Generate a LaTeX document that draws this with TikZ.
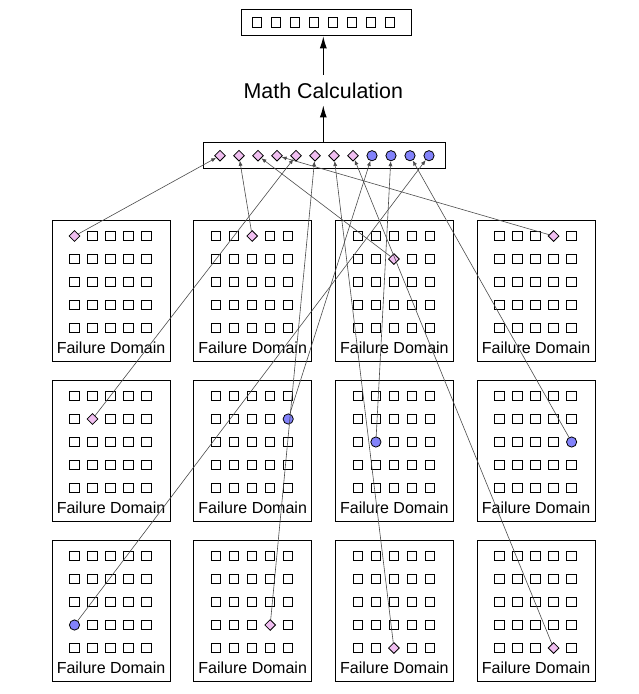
\documentclass[tikz,border=0pt]{standalone}
\usepackage{fontspec}
\setmainfont{Liberation Sans}
\usetikzlibrary{shapes.geometric,arrows.meta}
\definecolor{pinkfill}{RGB}{240,190,240}
\definecolor{bluefill}{RGB}{130,130,250}
\definecolor{conncol}{RGB}{75,75,75}
\tikzset{
 sq/.style={draw=black, line width=0.95pt, fill=white, rectangle, minimum size=9.4pt, inner sep=0pt},
 dia/.style={draw=black, line width=0.8pt, fill=pinkfill, diamond, minimum size=11pt, inner sep=0pt},
 circ/.style={draw=black, line width=0.8pt, fill=bluefill, circle, minimum size=10.2pt, inner sep=0pt},
 panel/.style={draw=black, line width=0.9pt, rectangle, minimum width=118pt, minimum height=141pt, inner sep=0pt},
 holder/.style={draw=black, line width=0.9pt, rectangle, inner sep=0pt},
 lbl/.style={font=\fontsize{16}{19}\selectfont, anchor=base, inner sep=0pt},
 conn/.style={draw=conncol, line width=0.6pt, -{Latex[length=5pt,width=4pt]}},
 bigarrow/.style={line width=1pt, -{Latex[length=12pt,width=7pt]}},
}
\begin{document}
\begin{tikzpicture}[x=1pt,y=-1pt]
\useasboundingbox (0,0) rectangle (638,694);
% top result box
\node[holder, minimum width=170pt, minimum height=26pt] (top) at (326.7,22.8) {};
\foreach \k in {1,...,8} \node[sq] (t\k) at ({256.7+19*(\k-1)},22.5) {};
% label
\node[font=\fontsize{21.4}{25}\selectfont, anchor=base, inner sep=0pt] (calc) at (323.3,98) {Math Calculation};
% middle box
\node[holder, minimum width=242pt, minimum height=26pt] (mid) at (324,155) {};
\foreach \k in {1,...,8} \node[dia] (m\k) at ({220+19*(\k-1)},155.7) {};
\foreach \k in {9,...,12} \node[circ] (m\k) at ({220+19*(\k-1)},155.7) {};
% arrows
\draw[bigarrow] (mid.north -| calc.south) -- ([yshift=-7pt]calc.south);
\draw[bigarrow] ([yshift=7.5pt]calc.north) -- (calc.north |- top.south);
% panels
\foreach \rr/\cc/\sr/\sc/\ty in {1/1/1/1/1, 1/2/1/3/1, 1/3/2/3/1, 1/4/1/4/1,
                                 2/1/2/2/1, 2/2/2/5/2, 2/3/3/2/2, 2/4/3/5/2,
                                 3/1/4/1/2, 3/2/4/4/1, 3/3/5/3/1, 3/4/5/4/1}{
  \pgfmathsetmacro\lx{52+141.7*(\cc-1)}
  \pgfmathsetmacro\tp{220+160*(\rr-1)}
  \node[panel] (p-\rr-\cc) at (\lx+59, \tp+70.5) {};
  \node[lbl] (f-\rr-\cc) at (\lx+59, \tp+133) {Failure Domain};
  \foreach \ii in {1,...,5}{
    \foreach \jj in {1,...,5}{
      \pgfmathtruncatemacro\spc{ifthenelse(and(\ii==\sr,\jj==\sc),\ty,0)}
      \ifcase\spc
        \node[sq] (c-\rr-\cc-\ii-\jj) at (\lx+22.5+18*\jj-18, \tp+16+23*\ii-23) {};
      \or
        \node[dia] (c-\rr-\cc-\ii-\jj) at (\lx+22.5+18*\jj-18, \tp+16+23*\ii-23) {};
      \or
        \node[circ] (c-\rr-\cc-\ii-\jj) at (\lx+22.5+18*\jj-18, \tp+16+23*\ii-23) {};
      \fi
    }
  }
}
% connectors
\draw[conn] (c-1-1-1-1) -- (m1);
\draw[conn] (c-1-2-1-3) -- (m2);
\draw[conn] (c-1-3-2-3) -- (m3);
\draw[conn] (c-1-4-1-4) -- (m4);
\draw[conn] (c-2-1-2-2) -- (m5);
\draw[conn] (c-3-2-4-4) -- (m6);
\draw[conn] (c-3-3-5-3) -- (m7);
\draw[conn] (c-3-4-5-4) -- (m8);
\draw[conn] (c-2-2-2-5) -- (m9);
\draw[conn] (c-2-3-3-2) -- (m10);
\draw[conn] (c-2-4-3-5) -- (m11);
\draw[conn] (c-3-1-4-1) -- (m12);
\end{tikzpicture}
\end{document}
